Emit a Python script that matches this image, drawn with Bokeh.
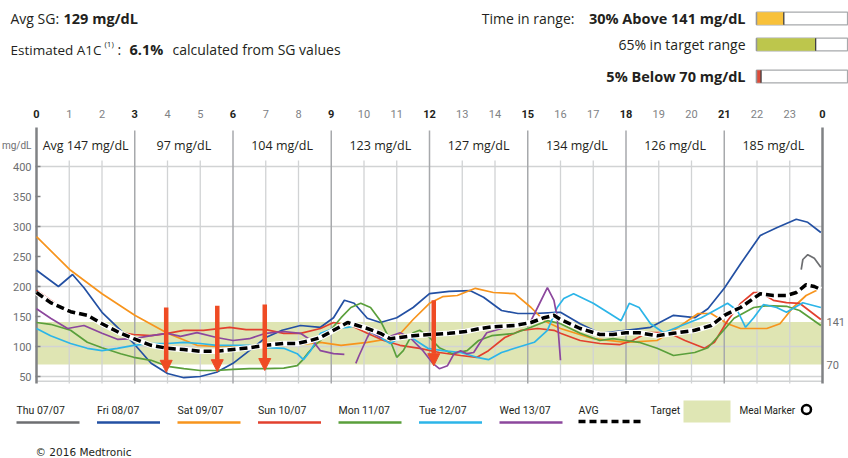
from bokeh.plotting import figure
from bokeh.models import (Range1d, FixedTicker, Arrow, NormalHead, ColumnDataSource, LinearAxis)
from bokeh.embed import file_html
from bokeh.resources import INLINE
from bokeh.core.properties import value

NaN = float("nan")

# ---------------- data ----------------
avg_sg = 129
a1c = 6.1
tir_pct = [30, 65, 5]              # above, in range, below
tir_colors = ["#f8c13a", "#bdc64c", "#dd4b39"]
target_low = 70
target_high = 141

hour_labels = list(range(24)) + [0]
segment_starts = [0, 3, 6, 9, 12, 15, 18, 21]
segment_avg = [147, 97, 104, 123, 127, 134, 126, 185]
y_ticks = [50, 100, 150, 200, 250, 300, 350, 400]
y_grid = [42, 50, 100, 200, 300, 400]

days = ["Thu 07/07", "Fri 08/07", "Sat 09/07", "Sun 10/07", "Mon 11/07", "Tue 12/07", "Wed 13/07"]
day_colors = ["#6d6e71", "#2350a3", "#f7941d", "#e2402e", "#5a9f3b", "#2cb5e8", "#8c479d"]

thu_h = [23.35, 23.4, 23.55, 23.75, 23.95]
thu_v = [228, 245, 253, 247, 232]

fri_h = [0, 0.67, 1.1, 1.45, 2.0, 2.57, 2.97, 3.5, 4.0, 4.5, 5.0, 5.5, 6.0, 6.5, 7.0, 7.5, 8.06, 8.67,
         9.07, 9.4, 9.7, 10.1, 10.5, 11.0, 11.5, 12.0, 12.6, 13.25, 13.65, 14.2, 14.7, 15.2, 15.9, 16.0,
         16.6, 17.2, 18.0, 18.75, 19.45, 20.1, 20.5, 21.0, 21.5, 22.1, 22.6, 23.2, 23.55, 23.95]
fri_v = [227, 200, 220, 198, 157, 127, 105, 72, 55, 48, 50, 57, 72, 93, 115, 127, 135, 132,
         148, 177, 172, 147, 140, 148, 165, 188, 192, 193, 182, 160, 155, 155, 157, 157,
         138, 122, 127, 132, 152, 148, 163, 197, 238, 285, 298, 312, 307, 290]

sat_h = [0, 1.04, 2.0, 3.0, 4.0, 4.9, 5.5, 6.0, 7.0, 8.0, 8.67, 9.3, 10.1, 11.0, 11.5, 12.0, 12.4,
         12.85, 13.4, 13.95, 14.6, 15.1, 15.5, 16.0, 17.0, 18.0, 18.95, 19.6, 20.2, 20.6, 21.1, 21.5,
         22.3, 22.7, 23.1, 23.5, 23.95]
sat_v = [283, 227, 188, 152, 122, 102, 100, 100, 100, 103, 107, 102, 107, 115, 145, 172, 183,
         185, 197, 190, 188, 165, 143, 130, 113, 107, 110, 132, 155, 155, 138, 130,
         130, 138, 165, 185, 197]

sun_h = [0, 0.43, 1.04, 1.45, 2.0, 2.57, 2.97, 3.5, 4.0, 4.5, 5.1, 5.9, 6.4, 7.0, 7.55, 8.06, 8.67,
         9.07, 9.6, 10.1, 10.6, 11.1, 11.7, 12.3, 12.95, 13.45, 13.8, 14.3, 14.8, 15.3, 15.8, 16.0,
         16.6, 17.2, 17.8, 18.2, 18.65, 19.3, 19.8, 20.4, 20.7, 21.1, 21.5, 21.9, 22.1, 22.5, 22.9,
         23.3, 23.95]
sun_v = [194, 177, 157, 152, 140, 123, 120, 118, 122, 127, 127, 132, 128, 128, 122, 122, 130,
         140, 135, 122, 110, 102, 97, 90, 85, 82, 93, 115, 127, 130, 127, 122,
         110, 105, 103, 110, 123, 123, 110, 97, 107, 143, 172, 190, 190, 177, 173,
         172, 145]

mon_h = [0, 0.43, 1.04, 1.55, 2.0, 2.57, 2.97, 3.5, 4.0, 4.5, 5.0, 5.5, 6.0, 6.5, 7.0, 7.55, 7.96,
         8.1, 8.3, 8.47, 8.9, 9.3, 9.6, 9.9, 10.2, 10.5, 10.8, 11.0, 11.2, 11.5, 11.7, 12.0, 12.3,
         12.7, 13.15, 13.5, 13.9, 14.6, 15.1, 15.6, 16.0, 16.6, 17.2, 17.6, 18.0, 18.4, 18.95, 19.45,
         20.1, 20.5, 20.9, 21.3, 21.9, 22.3, 22.9, 23.3, 23.95]
mon_v = [140, 137, 127, 107, 98, 88, 82, 77, 67, 63, 60, 60, 62, 63, 63, 64, 68,
         76, 90, 100, 122, 148, 165, 172, 165, 143, 110, 82, 93, 123, 127, 115, 98,
         88, 93, 110, 118, 122, 132, 143, 138, 122, 110, 113, 110, 107, 97, 85,
         90, 98, 122, 147, 165, 168, 167, 160, 135]

tue_h = [0, 0.43, 1.04, 1.55, 2.0, 2.47, 2.97, 3.5, 4.0, 4.5, 5.0, 5.5, 6.0, 6.5, 7.0, 7.55, 7.96,
         8.15, 8.37, 8.67, 9.07, 9.5, 9.8, 10.1, 10.5, 10.8, 11.1, 11.5, 11.95, 12.4, 12.95, 13.45,
         13.8, 14.2, 14.6, 15.2, 15.6, 15.9, 16.1, 16.4, 17.0, 17.5, 17.85, 18.1, 18.4, 18.75, 19.15,
         19.7, 20.3, 20.8, 21.1, 21.4, 21.65, 21.9, 22.2, 22.6, 22.9, 23.4, 23.95]
tue_v = [130, 118, 105, 97, 93, 97, 102, 105, 105, 107, 105, 102, 102, 102, 98, 97, 88,
         78, 93, 122, 130, 132, 135, 127, 115, 105, 115, 113, 97, 93, 90, 82,
         78, 90, 97, 107, 127, 165, 180, 188, 172, 155, 143, 172, 165, 138, 123,
         135, 148, 163, 172, 160, 132, 148, 170, 165, 157, 173, 165]

wed_h = [0, 0.43, 0.95, 1.45, 2.0, 2.47, 2.97, 3.5, 4.0, 4.4, 4.9, 5.5, 6.0, 6.5, 7.0, 7.55, 8.06,
         8.47, 8.67, 9.07, 9.4, 9.55,
         9.75, 9.85, 10.1, 10.2, 10.5, 10.8, 11.1, 11.4, 11.8, 12.1, 12.3, 12.55, 12.75, 12.95, 13.15,
         13.35, 13.55, 13.75, 14.2, 14.7, 15.1, 15.3, 15.6, 15.8, 15.9, 16.0]
wed_v = [163, 147, 130, 135, 122, 112, 113, 118, 122, 117, 123, 115, 110, 113, 122, 125, 122,
         107, 93, 88, 87, NaN,
         72, 85, 115, 125, 115, 117, 123, 115, 93, 72, 63, 68, 88, 93, 88,
         90, 107, 123, 130, 135, 143, 165, 198, 177, 148, 77]

avg_h = [0, 0.43, 1.04, 1.55, 2.0, 2.57, 2.97, 3.5, 4.0, 4.5, 5.0, 5.5, 6.0, 6.5, 7.0, 7.55, 7.96,
         8.37, 8.67, 9.07, 9.5, 9.8, 10.1, 10.5, 10.8, 11.1, 11.5, 12.0, 12.6, 13.1, 13.55, 13.95,
         14.6, 15.1, 15.5, 15.8, 16.0, 16.6, 17.2, 17.6, 18.0, 18.4, 18.95, 19.45, 20.1, 20.6, 21.0,
         21.5, 22.1, 22.5, 22.9, 23.2, 23.5, 23.75, 23.95]
avg_v = [190, 173, 158, 152, 138, 122, 113, 102, 97, 95, 92, 92, 95, 98, 102, 105, 105,
         110, 115, 127, 140, 135, 130, 122, 113, 115, 118, 120, 122, 125, 130, 133,
         135, 140, 148, 152, 145, 130, 120, 120, 123, 123, 118, 122, 127, 135, 152,
         165, 188, 185, 185, 190, 203, 200, 195]

series_h = [thu_h, fri_h, sat_h, sun_h, mon_h, tue_h, wed_h]
series_v = [thu_v, fri_v, sat_v, sun_v, mon_v, tue_v, wed_v]

arrow_hours = [3.96, 5.52, 6.97, 12.13]
arrow_top = [165, 168, 170, 177]
arrow_tip = [57, 58, 60, 68]
arrow_color = "#ef4b24"

# ---------------- page geometry (pixels of the 848x458 page) ----------------
W, H = 848, 458
X0_PX, X24_PX = 36, 822         # chart hour 0 / hour 24
PX_PER_H = (X24_PX - X0_PX) / 24
Y_BASE, PX_PER_MG = 406, 0.6    # pixel = Y_BASE - PX_PER_MG * mg/dL
BAR_L, BAR_PX = 756, 0.91       # time-in-range bars: left edge, px per percent

INK = "#231f20"
GRAY = "#6d6e71"
SANS = "Open Sans"
COND = "Roboto"

p = figure(width=W, height=H, x_range=Range1d(0, W), y_range=Range1d(H, 0),
           x_axis_location=None, y_axis_location=None, toolbar_location=None,
           output_backend="svg", min_border=0)
p.outline_line_color = None
p.grid.visible = False
p.background_fill_color = "white"
p.border_fill_color = "white"
p.extra_x_ranges = {
    "hour": Range1d(-X0_PX / PX_PER_H, (W - X0_PX) / PX_PER_H),
    "pct": Range1d(-BAR_L / BAR_PX, (W - BAR_L) / BAR_PX),
}
p.extra_y_ranges = {"mg": Range1d((Y_BASE - H) / PX_PER_MG, Y_BASE / PX_PER_MG)}
HM = dict(x_range_name="hour", y_range_name="mg")

ax = LinearAxis(y_range_name="mg", x_range_name="hour", ticker=FixedTicker(ticks=y_ticks),
                fixed_location=0)
ax.axis_line_color = None
ax.major_tick_in = 4
ax.major_tick_out = 1
ax.major_tick_line_color = "#808285"
ax.major_tick_line_width = 1.5
ax.minor_tick_line_color = None
ax.major_label_standoff = 4
ax.major_label_text_font = COND
ax.major_label_text_font_size = "11px"
ax.major_label_text_color = GRAY
p.add_layout(ax, "left")


def txt(x, y, s, bold=False, align="left", size="14px", font=SANS, color=INK, **kw):
    p.text(x=[x], y=[y], text=[s], text_font=value(font), text_font_size=size,
           text_font_style="bold" if bold else "normal", text_align=align,
           text_baseline="middle", text_color=color, **kw)


# ---------------- top summary ----------------
BOLD_SZ = "14.5px"
txt(10, 18, "Avg SG:")
txt(63, 18, f"{avg_sg} mg/dL", bold=True, size=BOLD_SZ)
txt(10, 49, "Estimated A1C", size="13.5px")
txt(104, 43, "(1)", size="8px")
txt(117, 49, ":")
txt(129, 49, f"{a1c}%", bold=True, size=BOLD_SZ)
txt(172, 49, "calculated from SG values")
txt(574, 18, "Time in range:", align="right")
txt(745, 18, f"{tir_pct[0]}% Above {target_high} mg/dL", bold=True, align="right", size=BOLD_SZ)
txt(745, 44, f"{tir_pct[1]}% in target range", align="right")
txt(745, 76, f"{tir_pct[2]}% Below {target_low} mg/dL", bold=True, align="right", size=BOLD_SZ)

bar_y = [18, 44, 76]
hb = 6.3
bt = [y - hb for y in bar_y]
bb = [y + hb for y in bar_y]
p.quad(left=[0] * 3, right=[100] * 3, top=bt, bottom=bb, x_range_name="pct",
       fill_color="white", line_color="#a7a9ac", line_width=1.2)
p.quad(left=[0] * 3, right=tir_pct, top=bt, bottom=bb, x_range_name="pct",
       fill_color=tir_colors, line_color=None)
p.segment(x0=tir_pct, x1=tir_pct, y0=bt, y1=bb, x_range_name="pct",
          line_color="#414042", line_width=1.3)
p.segment(x0=[0] * 3, x1=[0] * 3, y0=bt, y1=bb, x_range_name="pct",
          line_color="#939598", line_width=1.5)

# ---------------- main chart ----------------
p.quad(left=[0], right=[24], bottom=[target_low], top=[target_high],
       fill_color="#dfe5b3", line_color=None, **HM)

BOT = 38.3
p.segment(x0=[0] * len(y_grid), x1=[24] * len(y_grid), y0=y_grid, y1=y_grid,
          line_color="#d1d3d4", line_width=1.5, **HM)
minor_hours = [h for h in range(1, 24) if h % 3]
p.segment(x0=minor_hours, x1=minor_hours, y0=[BOT] * len(minor_hours), y1=[410] * len(minor_hours),
          line_color="#d1d3d4", line_width=1.3, **HM)
inner_div = segment_starts[1:]
p.segment(x0=inner_div, x1=inner_div, y0=[BOT] * len(inner_div), y1=[460] * len(inner_div),
          line_color="#a7a9ac", line_width=1.5, **HM)
p.segment(x0=[0, 24], x1=[0, 24], y0=[BOT, BOT], y1=[465, 465],
          line_color="#808285", line_width=2.5, **HM)

bold_h = [h for h in range(25) if h % 3 == 0]
p.text(x=bold_h, y=[488] * len(bold_h), text=[str(hour_labels[h]) for h in bold_h],
       text_font=value(COND), text_font_size="11px", text_font_style="bold",
       text_align="center", text_baseline="middle", text_color=INK, **HM)
p.text(x=minor_hours, y=[488] * len(minor_hours), text=[str(hour_labels[h]) for h in minor_hours],
       text_font=value(COND), text_font_size="11px", text_align="center",
       text_baseline="middle", text_color="#808285", **HM)
seg_txt = [("Avg " if i == 0 else "") + f"{v} mg/dL" for i, v in enumerate(segment_avg)]
p.text(x=[s + 1.5 for s in segment_starts], y=[435] * len(segment_starts), text=seg_txt,
       text_font=value(SANS), text_font_size="12.5px", text_align="center",
       text_baseline="middle", text_color=INK, **HM)
p.text(x=[0], y=[435], text=["mg/dL"], x_offset=-5, text_font=value(COND), text_font_size="10px",
       text_align="right", text_baseline="middle", text_color=GRAY, **HM)
p.text(x=[24, 24], y=[target_high, target_low], text=[str(target_high), str(target_low)],
       x_offset=4, text_font=value(COND), text_font_size="11px", text_align="left",
       text_baseline="middle", text_color=GRAY, **HM)

for hs, vs, c in zip(series_h, series_v, day_colors):
    p.line(hs, vs, line_color=c, line_width=1.7, **HM)
p.line(avg_h, avg_v, line_color="white", line_width=5.5, **HM)
p.line(avg_h, avg_v, line_color="black", line_width=3.5, line_dash="8 4", **HM)

asrc = ColumnDataSource(dict(x0=arrow_hours, y0=arrow_top, x1=arrow_hours, y1=arrow_tip))
p.add_layout(Arrow(end=NormalHead(size=12, fill_color=arrow_color, line_color=arrow_color, line_width=1),
                   x_start="x0", y_start="y0", x_end="x1", y_end="y1",
                   line_color=arrow_color, line_width=4.5, source=asrc, **HM))

# ---------------- legend + footer ----------------
LEG_SZ = "10.5px"
leg_x = [16 + i * 80.5 for i in range(len(days))]
p.text(x=leg_x, y=[410] * len(days), text=days, text_font=value(COND), text_font_size=LEG_SZ,
       text_align="left", text_baseline="middle", text_color=INK)
p.segment(x0=leg_x, x1=[x + 63 for x in leg_x], y0=[422] * len(days), y1=[422] * len(days),
          line_color=day_colors, line_width=2.5)
p.text(x=[578, 650, 739], y=[410] * 3, text=["AVG", "Target", "Meal Marker"], text_font=value(COND),
       text_font_size=["10.5px", "10.5px", "10px"], text_align="left", text_baseline="middle",
       text_color=INK)
p.line([578, 642], [421, 421], line_color="black", line_width=3.5, line_dash="7 4")
p.quad(left=[683], right=[730], top=[400], bottom=[422], fill_color="#dfe6b4", line_color=None)
p.scatter([806], [409], size=9, marker="circle", fill_color="white", line_color="black", line_width=2.5)
txt(35, 451, "\u00a9 2016 Medtronic", size="10.5px", font="DejaVu Sans")

open("out.html", "w").write(file_html(p, INLINE))
